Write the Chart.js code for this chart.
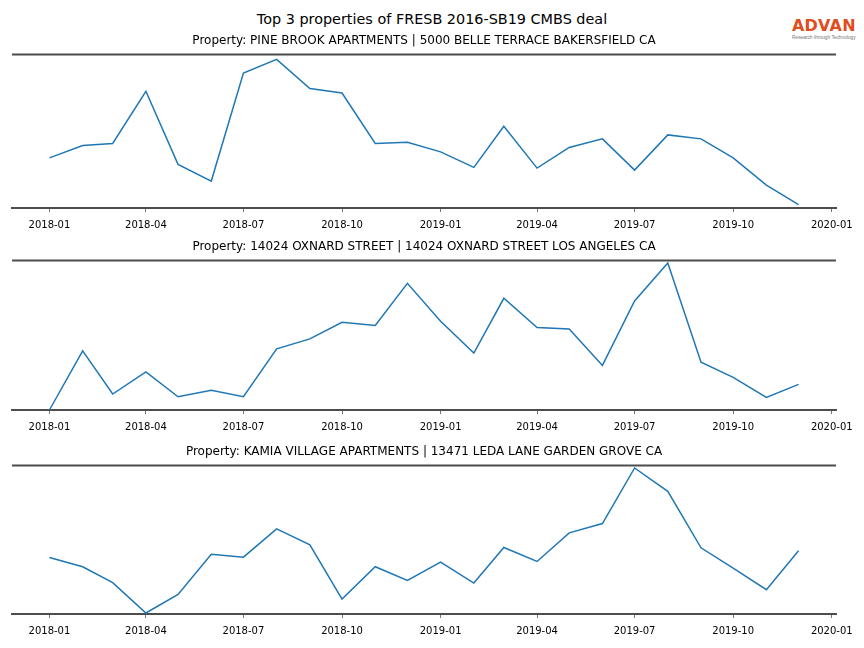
<!DOCTYPE html>
<html>
<head>
<meta charset="utf-8">
<script src="https://cdn.jsdelivr.net/npm/chart.js@4.4.0/dist/chart.umd.min.js"></script>
<style>
  body { margin: 0; background: #fff; width: 864px; height: 648px; position: relative; overflow: hidden; font-family: "DejaVu Sans", sans-serif; }
  #title { position: absolute; top: 11px; left: 0; width: 864px; text-align: center; font-size: 14.4px; color: #000; }
  .panel { position: absolute; left: 0; width: 864px; }
  #logo { position: absolute; left: 792px; top: 18px; width: 72px; }
  #logo .name { font-family: "DejaVu Sans", sans-serif; font-weight: bold; font-size: 16px; color: #e04d1e; line-height: 16px; letter-spacing: 0.2px; }
  #logo .tag { font-family: "Liberation Sans", sans-serif; font-size: 8px; color: #777; white-space: nowrap; transform: scale(0.6); transform-origin: left top; margin-top: 1px; }
</style>
</head>
<body>
<div id="title">Top 3 properties of FRESB 2016-SB19 CMBS deal</div>
<div id="logo"><div class="name">ADVAN</div><div class="tag">Research through Technology</div></div>
<canvas id="c1" class="panel" width="864" height="204" style="top:34px"></canvas>
<canvas id="c2" class="panel" width="864" height="200" style="top:240px"></canvas>
<canvas id="c3" class="panel" width="864" height="199" style="top:445px"></canvas>
<script>
// monthly observations
const months = ['2018-01','2018-02','2018-03','2018-04','2018-05','2018-06','2018-07','2018-08','2018-09','2018-10','2018-11','2018-12',
                '2019-01','2019-02','2019-03','2019-04','2019-05','2019-06','2019-07','2019-08','2019-09','2019-10','2019-11','2019-12'];
const tickLabels = ['2018-01','2018-04','2018-07','2018-10','2019-01','2019-04','2019-07','2019-10','2020-01'];

const titles = [
  'Property: PINE BROOK APARTMENTS | 5000 BELLE TERRACE BAKERSFIELD CA',
  'Property: 14024 OXNARD STREET | 14024 OXNARD STREET LOS ANGELES CA',
  'Property: KAMIA VILLAGE APARTMENTS | 13471 LEDA LANE GARDEN GROVE CA'
];

// values (no y scale shown, arbitrary units)
const pineBrook = [50.3, 62.7, 64.7, 117, 43.7, 27, 135.3, 149, 119.7, 115.3, 64.7, 66,
                   56.3, 40.7, 82, 40, 60.7, 69.3, 38, 73.3, 69.3, 50.3, 23, 3.3];
const oxnard    = [0, 59.3, 16, 38.3, 13.3, 19.7, 13.3, 61.3, 71.3, 88, 84.7, 127,
                   89, 57, 112, 82.7, 81.3, 44.7, 109.3, 147.3, 48, 32.7, 12.7, 25.7];
const kamia     = [56.7, 47.4, 31.4, 1, 19.7, 60, 57, 85.4, 69.4, 15, 47.4, 33.7,
                   52, 31, 66.7, 52.7, 81.4, 90.7, 146.4, 123, 66.4, 46, 24.4, 63.4];
const yMax = [154, 150, 149];

// days since 2018-01-01
const t0 = Date.UTC(2018, 0, 1);
function toDay(s) {
  const p = s.split('-');
  return (Date.UTC(+p[0], +p[1] - 1, 1) - t0) / 86400000;
}
const xMonths = months.map(toDay);
const xTicks = tickLabels.map(toDay);
const span = xMonths[xMonths.length - 1] - xMonths[0];

const topSpine = {
  id: 'topSpine',
  afterDraw(chart) {
    const a = chart.chartArea, ctx = chart.ctx;
    ctx.save();
    ctx.strokeStyle = '#4d4d4d';
    ctx.lineWidth = 2;
    ctx.beginPath();
    ctx.moveTo(a.left, a.top);
    ctx.lineTo(a.right, a.top);
    ctx.stroke();
    ctx.restore();
  }
};

function makePanel(id, title, values, ymax) {
  return new Chart(document.getElementById(id), {
    type: 'line',
    data: {
      datasets: [{
        data: values.map((v, i) => ({ x: xMonths[i], y: v })),
        borderColor: '#1f77b4',
        borderWidth: 1.5,
        pointRadius: 0,
        tension: 0,
        fill: false,
        clip: false
      }]
    },
    options: {
      responsive: false,
      animation: false,
      layout: { padding: { left: 12, right: 28, top: 0, bottom: 0 } },
      plugins: {
        legend: { display: false },
        tooltip: { enabled: false },
        title: {
          display: true,
          text: title,
          color: '#000',
          font: { family: 'DejaVu Sans', size: 12, weight: 'normal' },
          padding: { top: 0, bottom: 6 }
        }
      },
      scales: {
        x: {
          type: 'linear',
          min: xMonths[0] - 0.05 * span,
          max: xMonths[xMonths.length - 1] + 0.05 * span,
          afterBuildTicks(axis) { axis.ticks = xTicks.map(v => ({ value: v })); },
          ticks: {
            autoSkip: false,
            maxRotation: 0,
            color: '#000',
            font: { family: 'DejaVu Sans', size: 10 },
            padding: 7,
            callback(v) { const i = xTicks.indexOf(v); return i >= 0 ? tickLabels[i] : ''; }
          },
          grid: { drawOnChartArea: false, tickLength: 4, color: '#777', lineWidth: 1 },
          border: { color: '#4d4d4d', width: 2 }
        },
        y: { display: false, min: 0, max: ymax }
      }
    },
    plugins: [topSpine]
  });
}

makePanel('c1', titles[0], pineBrook, yMax[0]);
makePanel('c2', titles[1], oxnard, yMax[1]);
makePanel('c3', titles[2], kamia, yMax[2]);
</script>
</body>
</html>
